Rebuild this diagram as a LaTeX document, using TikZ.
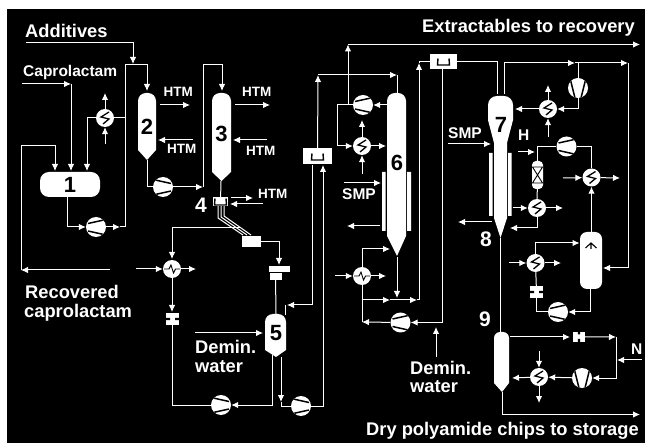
\documentclass[tikz,border=0pt]{standalone}
\usepackage{fontspec}
\setmainfont{Liberation Sans}
\usepackage{tikz}
\usetikzlibrary{arrows.meta}

\begin{document}
\begin{tikzpicture}[x=1pt, y=-1pt,
        % Define the styles for text, pipes and equipment
        big/.style={text=white, font=\bfseries\fontsize{18.3}{20}\selectfont, anchor=base west, inner sep=0pt},
        mid/.style={text=white, font=\bfseries\fontsize{15.5}{18}\selectfont, anchor=base west, inner sep=0pt},
        small/.style={text=white, font=\bfseries\fontsize{13.5}{15}\selectfont, anchor=base west, inner sep=0pt},
        digit/.style={text=white, font=\bfseries\fontsize{21}{22}\selectfont, anchor=base west, inner sep=0pt},
        tag/.style={text=black, font=\bfseries\fontsize{22}{24}\selectfont, inner sep=0pt},
        pipe/.style={draw=white, line width=1pt},
        flow/.style={pipe, -{Latex[length=7pt,width=6.5pt]}},
        shell/.style={fill=white},
        plate/.style={fill=white, rectangle, inner sep=0pt},
        disc/.style={circle, fill=white, minimum size=20pt, inner sep=0pt},
        pumpr/.style={disc,
            path picture={\draw[black, line width=1.5pt, shift={(path picture bounding box.center)}]
                (-8,-3.5) -- (10,-7.5) (-8,4) -- (10,8);}},
        pumpl/.style={disc,
            path picture={\draw[black, line width=1.5pt, shift={(path picture bounding box.center)}]
                (8,-3.5) -- (-10,-7.5) (8,4) -- (-10,8);}},
        blower/.style={disc,
            path picture={\draw[black, line width=1.5pt, shift={(path picture bounding box.center)}]
                (-7.5,-8) -- (-3,10) (7.5,-8) -- (3,10);}},
        hxz/.style={circle, fill=white, minimum size=18pt, inner sep=0pt,
            path picture={\draw[black, line width=1.3pt, shift={(path picture bounding box.center)}]
                (4,-6) -- (-4,-1) -- (4,1) -- (-2,6);}},
        hxw/.style={circle, fill=white, minimum size=18pt, inner sep=0pt,
            path picture={\draw[black, line width=.9pt, shift={(path picture bounding box.center)}]
                (-8,0) -- (-3,0) -- (-1,-4) -- (1.5,4) -- (3.5,0) -- (8,0);}},
        strainer/.style={plate, minimum width=13pt, minimum height=12pt,
            path picture={\fill[black, shift={(path picture bounding box.center)}]
                (-8,-1.2) rectangle (-2.5,1.2) (2.5,-1.2) rectangle (8,1.2);}},
        strainerv/.style={plate, minimum width=12pt, minimum height=10pt,
            path picture={\fill[black, shift={(path picture bounding box.center)}]
                (-1.2,-8) rectangle (1.2,-2.2) (-1.2,2.2) rectangle (1.2,8);}},
        trap/.style={plate,
            path picture={\draw[black, line width=1.4pt, shift={(path picture bounding box.center)}]
                (-5.5,-3) -- (-6,3.5) -- (6,3.5) -- (5.5,-3);}},
        crossbox/.style={fill=white, rectangle, rounded corners=4pt, inner sep=0pt, minimum width=11pt, minimum height=28pt,
            path picture={\draw[black, line width=.9pt, shift={(path picture bounding box.center)}]
                (-7,-8) -- (7,-8) (-7,8) -- (7,8) (-5,-8) -- (5,8) (5,-8) -- (-5,8);}}]

    % 1. Background with the white edge of the page
    \fill[white] (0,0) rectangle (645,443);
    \fill[black] (6.5,9.5) rectangle (645,443);

    % 2. Draw the columns and vessels
    \fill[shell] (138,150) -- (147,160) -- (156,150) [rounded corners=8pt] -- (156,93) -- (138,93) [sharp corners] -- cycle;
    \fill[shell] (212,172) -- (221.5,181) -- (231,172) [rounded corners=8pt] -- (231,93) -- (212,93) [sharp corners] -- cycle;
    \fill[shell] (265,350) -- (276,357) -- (286,350) [rounded corners=8pt] -- (286,314) -- (265,314) [sharp corners] -- cycle;
    \fill[shell] (387,236) -- (397,256) -- (406,236) [rounded corners=8pt] -- (406,93) -- (387,93) [sharp corners] -- cycle;
    \fill[shell] (494,218) -- (500.5,238) -- (507,218) -- (507,143) -- (513,120) [rounded corners=9pt] -- (513,96) -- (488,96) [sharp corners] -- (488,120) -- (494,143) -- cycle;
    \fill[shell] (494,383) -- (502,392) -- (509,383) [rounded corners=6pt] -- (509,332) -- (494,332) [sharp corners] -- cycle;
    \fill[shell] (382,172) rectangle (385.5,231) (407,172) rectangle (411,231);
    \fill[shell] (489,153) rectangle (492.5,216) (508,153) rectangle (511.5,216);

    % 3. Place the equipment
    \node[fill=white, rectangle, rounded corners=9pt, inner sep=0pt, minimum width=60pt, minimum height=25pt] (V1) at (70,184.5) {};
    \node[tag] (n1) at (V1) {1};
    \node[tag] (n2) at (147,127) {2};
    \node[tag] (n3) at (221.5,134) {3};
    \node[tag] (n5) at (276,333) {5};
    \node[tag] (n6) at (397,163) {6};
    \node[tag] (n7) at (501,125) {7};
    \node[fill=white, rectangle, rounded corners=7pt, inner sep=0pt, minimum width=22pt, minimum height=57pt] (V2) at (591,260.5) {};
    \draw[black, line width=1.1pt] (585.5,248) -- (591,243) -- (596.5,248) (591,243) -- (591,249);

    \node[pumpr] (P1) at (96,227) {};
    \node[pumpl] (P2) at (163,187) {};
    \node[pumpl] (P3) at (221,405) {};
    \node[pumpl] (P4) at (301,406) {};
    \node[pumpr] (P5) at (363,105) {};
    \node[pumpr] (P6) at (400.5,322.5) {};
    \node[pumpr] (P7) at (566.5,146.5) {};
    \node[pumpr] (P8) at (558,312) {};
    \node[blower] (B1) at (578,88) {};
    \node[blower] (B2) at (582,378) {};

    \node[hxz] (H1) at (105,118) {};
    \node[hxw] (H3) at (172,269) {};
    \node[hxz] (H4) at (362,146) {};
    \node[hxw] (H5) at (362,276) {};
    \node[hxz] (H6) at (548,109) {};
    \node[hxz] (H7) at (591.5,177.5) {};
    \node[hxz] (H8) at (537,208) {};
    \node[hxz] (H9) at (535.5,263) {};
    \node[hxz] (H10) at (539,377) {};

    \node[trap, minimum width=15pt, minimum height=9pt] (T4) at (220.5,201.5) {};
    \node[trap, minimum width=29pt, minimum height=16pt] (TA) at (317.5,156.5) {};
    \node[trap, minimum width=27pt, minimum height=15pt] (TB) at (443.5,61.5) {};
    \node[plate, minimum width=19pt, minimum height=11pt] (R1) at (251.5,241.5) {};
    \node[plate, minimum width=21pt, minimum height=6pt] (R2) at (279.5,269) {};
    \node[plate, minimum width=12pt, minimum height=7pt] (R3) at (275.5,276.5) {};
    \node[strainer] (S1) at (172.5,319) {};
    \node[strainer] (S2) at (536.5,292) {};
    \node[strainerv] (S3) at (579,336.7) {};
    \node[crossbox] (F1) at (537.5,175) {};

    % 4. Define the free ends of the lines
    \coordinate (addS) at (26,43); \coordinate (addE) at (133,64);
    \coordinate (capS) at (22,84); \coordinate (capF) at (71,84); \coordinate (capE) at (71,171);
    \coordinate (recS) at (110,270); \coordinate (recL) at (21,270); \coordinate (recT) at (55,146); \coordinate (recE) at (55,171);
    \coordinate (h1U) at (105,93); \coordinate (h1D) at (105,144); \coordinate (h1L) at (87,171); \coordinate (h1R) at (125,118);
    \coordinate (v1B) at (67,197); \coordinate (f1) at (120,227); \coordinate (q1) at (125,65); \coordinate (c2T) at (147,91);
    \coordinate (c2B) at (147,160); \coordinate (f2) at (203,187); \coordinate (q2) at (203,65); \coordinate (c3T) at (222,91);
    \coordinate (c3B) at (221,181);
    \coordinate (a1S) at (160,105); \coordinate (a1E) at (190,105); \coordinate (a2S) at (193,140); \coordinate (a2E) at (158,140);
    \coordinate (a3S) at (235,105); \coordinate (a3E) at (270,105); \coordinate (a4S) at (267,140); \coordinate (a4E) at (233,140);
    \coordinate (a5S) at (231,198); \coordinate (a5E) at (253,198); \coordinate (a6S) at (263,204); \coordinate (a6E) at (230,204);
    \coordinate (w1) at (218,206); \coordinate (w2) at (218,218); \coordinate (w3) at (243,235);
    \coordinate (w4) at (221,206); \coordinate (w5) at (221,217); \coordinate (w6) at (247,235);
    \coordinate (w7) at (224,206); \coordinate (w8) at (224,216); \coordinate (w9) at (251,235);
    \coordinate (l1) at (240,228); \coordinate (l2) at (172,259); \coordinate (r1) at (279,265); \coordinate (r2) at (276,314);
    \coordinate (h3L) at (136,269); \coordinate (h3R) at (196,269); \coordinate (h3D) at (172,312);
    \coordinate (a7S) at (195,333); \coordinate (a7E) at (263,333); \coordinate (c5L) at (272,355); \coordinate (c5R) at (281,357); \coordinate (c5A) at (281,402);
    \coordinate (e1) at (323,165); \coordinate (e2) at (312,165); \coordinate (e3) at (287,305); \coordinate (e4) at (285,305); \coordinate (e5) at (285,315);
    \coordinate (o1) at (318,75); \coordinate (o2) at (397,75); \coordinate (c6T) at (397,93);
    \coordinate (j6) at (348,105); \coordinate (t1) at (348,44.5); \coordinate (t2) at (640,44.5);
    \coordinate (c6P) at (395,105); \coordinate (k1) at (337,125);
    \coordinate (h4U) at (362,120); \coordinate (h4D) at (362,174); \coordinate (h4R) at (386,146);
    \coordinate (s1S) at (344,183); \coordinate (s1E) at (381,183); \coordinate (o3S) at (380,226); \coordinate (o3E) at (347,226);
    \coordinate (h5L) at (335,276); \coordinate (h5R) at (386,276); \coordinate (m1) at (390,249); \coordinate (m2) at (362,322);
    \coordinate (m3) at (362,300); \coordinate (m4) at (390,300); \coordinate (m5) at (417,300); \coordinate (n0) at (419,63);
    \coordinate (c6B) at (397,257); \coordinate (c6E) at (397,298); \coordinate (b1) at (442,69); \coordinate (dS) at (436,357); \coordinate (dE) at (436,327);
    \coordinate (c7A) at (497,94); \coordinate (c7B) at (504,94); \coordinate (y1) at (575,63); \coordinate (y2) at (628,63); \coordinate (y3) at (603,268); \coordinate (y4) at (578,63);
    \coordinate (h6U) at (548,85); \coordinate (h6D) at (548,137); \coordinate (h6L) at (515,109);
    \coordinate (s2S) at (448,144); \coordinate (s2E) at (491,144); \coordinate (o4S) at (492,222); \coordinate (o4E) at (458,222);
    \coordinate (hS) at (518,152); \coordinate (hE) at (535,152);
    \coordinate (h7L) at (563,178); \coordinate (h7R) at (620,178); \coordinate (v2T) at (591.5,232);
    \coordinate (h8L) at (513,208); \coordinate (h8R) at (563,208); \coordinate (h8E) at (510,228);
    \coordinate (h9L) at (509,263); \coordinate (h9R) at (561,263); \coordinate (v2W) at (579.5,243); \coordinate (v2B) at (590,289);
    \coordinate (c7E) at (500.5,238); \coordinate (c9T) at (500.5,332); \coordinate (c9R) at (510,337); \coordinate (c9P) at (570,337);
    \coordinate (g1) at (616,337); \coordinate (nS) at (642,360); \coordinate (nE) at (617,360);
    \coordinate (h10L) at (512,378); \coordinate (h10U) at (539,351); \coordinate (h10D) at (539,403);
    \coordinate (c9B) at (502,392); \coordinate (dry) at (640,414.5);

    % 5. Draw the lines on the left
    \draw[flow] (addS) -| (addE);
    \draw[flow] (capS) -- (capF);
    \draw[flow] (capF) -- (capE);
    \draw[flow] (recS) -- (recL);
    \draw[flow] (recL) |- (recT) -- (recE);
    \draw[flow] (H1) -- (h1U);
    \draw[flow] (h1D) -- (H1);
    \draw[flow] (H1) -| (h1L);
    \draw[pipe] (H1) -- (h1R);
    \draw[flow] (v1B) |- (P1);
    \draw[flow] (P1) -- (f1);
    \draw[flow] (f1) -| (q1) -| (c2T);
    \draw[pipe] (c2B) |- (P2);
    \draw[flow] (P2) -- (f2);
    \draw[flow] (f2) -- (q2) -| (c3T);
    \draw[pipe] (c3B) -- (T4);
    \draw[flow] (a1S) -- (a1E);
    \draw[flow] (a2S) -- (a2E);
    \draw[flow] (a3S) -- (a3E);
    \draw[flow] (a4S) -- (a4E);
    \draw[flow] (a5S) -- (a5E);
    \draw[flow] (a6S) -- (a6E);

    % 6. Draw the lines round column 5
    \draw[pipe] (w1) -- (w2) -- (w3);
    \draw[pipe] (w4) -- (w5) -- (w6);
    \draw[pipe] (w7) -- (w8) -- (w9);
    \draw[flow] (l1) -| (l2);
    \draw[flow] (R1) -| (r1);
    \draw[pipe] (R3) -- (r2);
    \draw[flow] (h3L) -- (H3);
    \draw[flow] (H3) -- (h3R);
    \draw[flow] (H3) -- (h3D);
    \draw[pipe] (S1) |- (P3);
    \draw[flow] (a7S) -- (a7E);
    \draw[flow] (c5L) |- (P3);
    \draw[flow] (c5R) -- (c5A);
    \draw[pipe] (c5A) |- (P4);
    \draw[flow] (P4) -| (e1);
    \draw[flow] (e2) |- (e3);
    \draw[pipe] (e4) -- (e5);
    \draw[flow] (TA) -- (o1);
    \draw[flow] (o1) -- (o2);
    \draw[pipe] (o2) -- (c6T);

    % 7. Draw the lines round column 6
    \draw[flow] (j6) -- (t1);
    \draw[flow] (t1) -- (t2);
    \draw[flow] (c6P) -- (P5);
    \draw[pipe] (P5) -| (k1);
    \draw[flow] (k1) |- (H4);
    \draw[flow] (H4) -- (h4U);
    \draw[flow] (h4D) -- (H4);
    \draw[flow] (H4) -- (h4R);
    \draw[flow] (s1S) -- (s1E);
    \draw[flow] (o3S) -- (o3E);
    \draw[flow] (h5L) -- (H5);
    \draw[flow] (H5) -- (h5R);
    \draw[flow] (H5) |- (m1);
    \draw[pipe] (H5) -- (m2);
    \draw[flow] (P6) -- (m2);
    \draw[flow] (m3) -- (m4);
    \draw[flow] (m4) -- (m5);
    \draw[flow] (m5) -| (n0);
    \draw[pipe] (n0) |- (TB);
    \draw[flow] (c6B) -- (c6E);
    \draw[flow] (b1) |- (P6);
    \draw[flow] (dS) -- (dE);

    % 8. Draw the lines round column 7
    \draw[pipe] (TB) -| (c7A);
    \draw[flow] (c7B) |- (y1);
    \draw[flow] (y1) -- (y2);
    \draw[flow] (y2) |- (y3);
    \draw[pipe] (y4) -- (B1);
    \draw[flow] (B1) |- (H6);
    \draw[flow] (H6) -- (h6U);
    \draw[flow] (h6D) -- (H6);
    \draw[flow] (H6) -- (h6L);
    \draw[flow] (s2S) -- (s2E);
    \draw[flow] (o4S) -- (o4E);
    \draw[flow] (hS) -- (hE);
    \draw[pipe] (F1) |- (P7);
    \draw[pipe] (P7) -| (H7);
    \draw[flow] (h7L) -- (H7);
    \draw[flow] (H7) -- (h7R);
    \draw[flow] (v2T) -- (H7);
    \draw[pipe] (F1) -- (H8);
    \draw[flow] (h8L) -- (H8);
    \draw[flow] (H8) -- (h8R);
    \draw[flow] (H8) |- (h8E);
    \draw[flow] (h9L) -- (H9);
    \draw[flow] (H9) -- (h9R);
    \draw[flow] (H9) |- (v2W);
    \draw[pipe] (H9) -- (S2);
    \draw[pipe] (S2) |- (P8);
    \draw[flow] (v2B) |- (P8);

    % 9. Draw the lines round the dryer
    \draw[pipe] (c7E) -- (c9T);
    \draw[flow] (c9R) -- (c9P);
    \draw[flow] (S3) -- (g1);
    \draw[flow] (g1) |- (B2);
    \draw[flow] (nS) -- (nE);
    \draw[flow] (B2) -- (H10);
    \draw[flow] (H10) -- (h10L);
    \draw[flow] (h10U) -- (H10);
    \draw[flow] (H10) -- (h10D);
    \draw[flow] (c9B) |- (dry);

    % 10. Place the texts
    \node[big] (tAdd) at (25,38) {Additives};
    \node[mid] (tCap) at (23,77) {Caprolactam};
    \node[big] (tExt) at (422,33) {Extractables to recovery};
    \node[big] (tRec) at (25,299) {Recovered};
    \node[big] (tCpr) at (24,318) {caprolactam};
    \node[big] (tDem) at (195,354) {Demin.};
    \node[big] (tWat) at (195,373) {water};
    \node[big] (tDe2) at (410,374) {Demin.};
    \node[big] (tWa2) at (410,392) {water};
    \node[big] (tDry) at (366,435) {Dry polyamide chips to storage};
    \node[small] (h1) at (163.5,97) {HTM};
    \node[small] (h2) at (167,154) {HTM};
    \node[small] (h3) at (242,97) {HTM};
    \node[small] (h4) at (246,156) {HTM};
    \node[small] (h5) at (258,199) {HTM};
    \node[mid] (tS1) at (342,200) {SMP};
    \node[mid] (tS2) at (448,139) {SMP};
    \node[mid] (tH) at (518,141) {H};
    \node[mid] (tN) at (631,355) {N};
    \node[digit] (d4) at (195,213) {4};
    \node[digit] (d8) at (480,247) {8};
    \node[digit] (d9) at (479,327) {9};

    \useasboundingbox (0,0) rectangle (645,443);
\end{tikzpicture}
\end{document}
